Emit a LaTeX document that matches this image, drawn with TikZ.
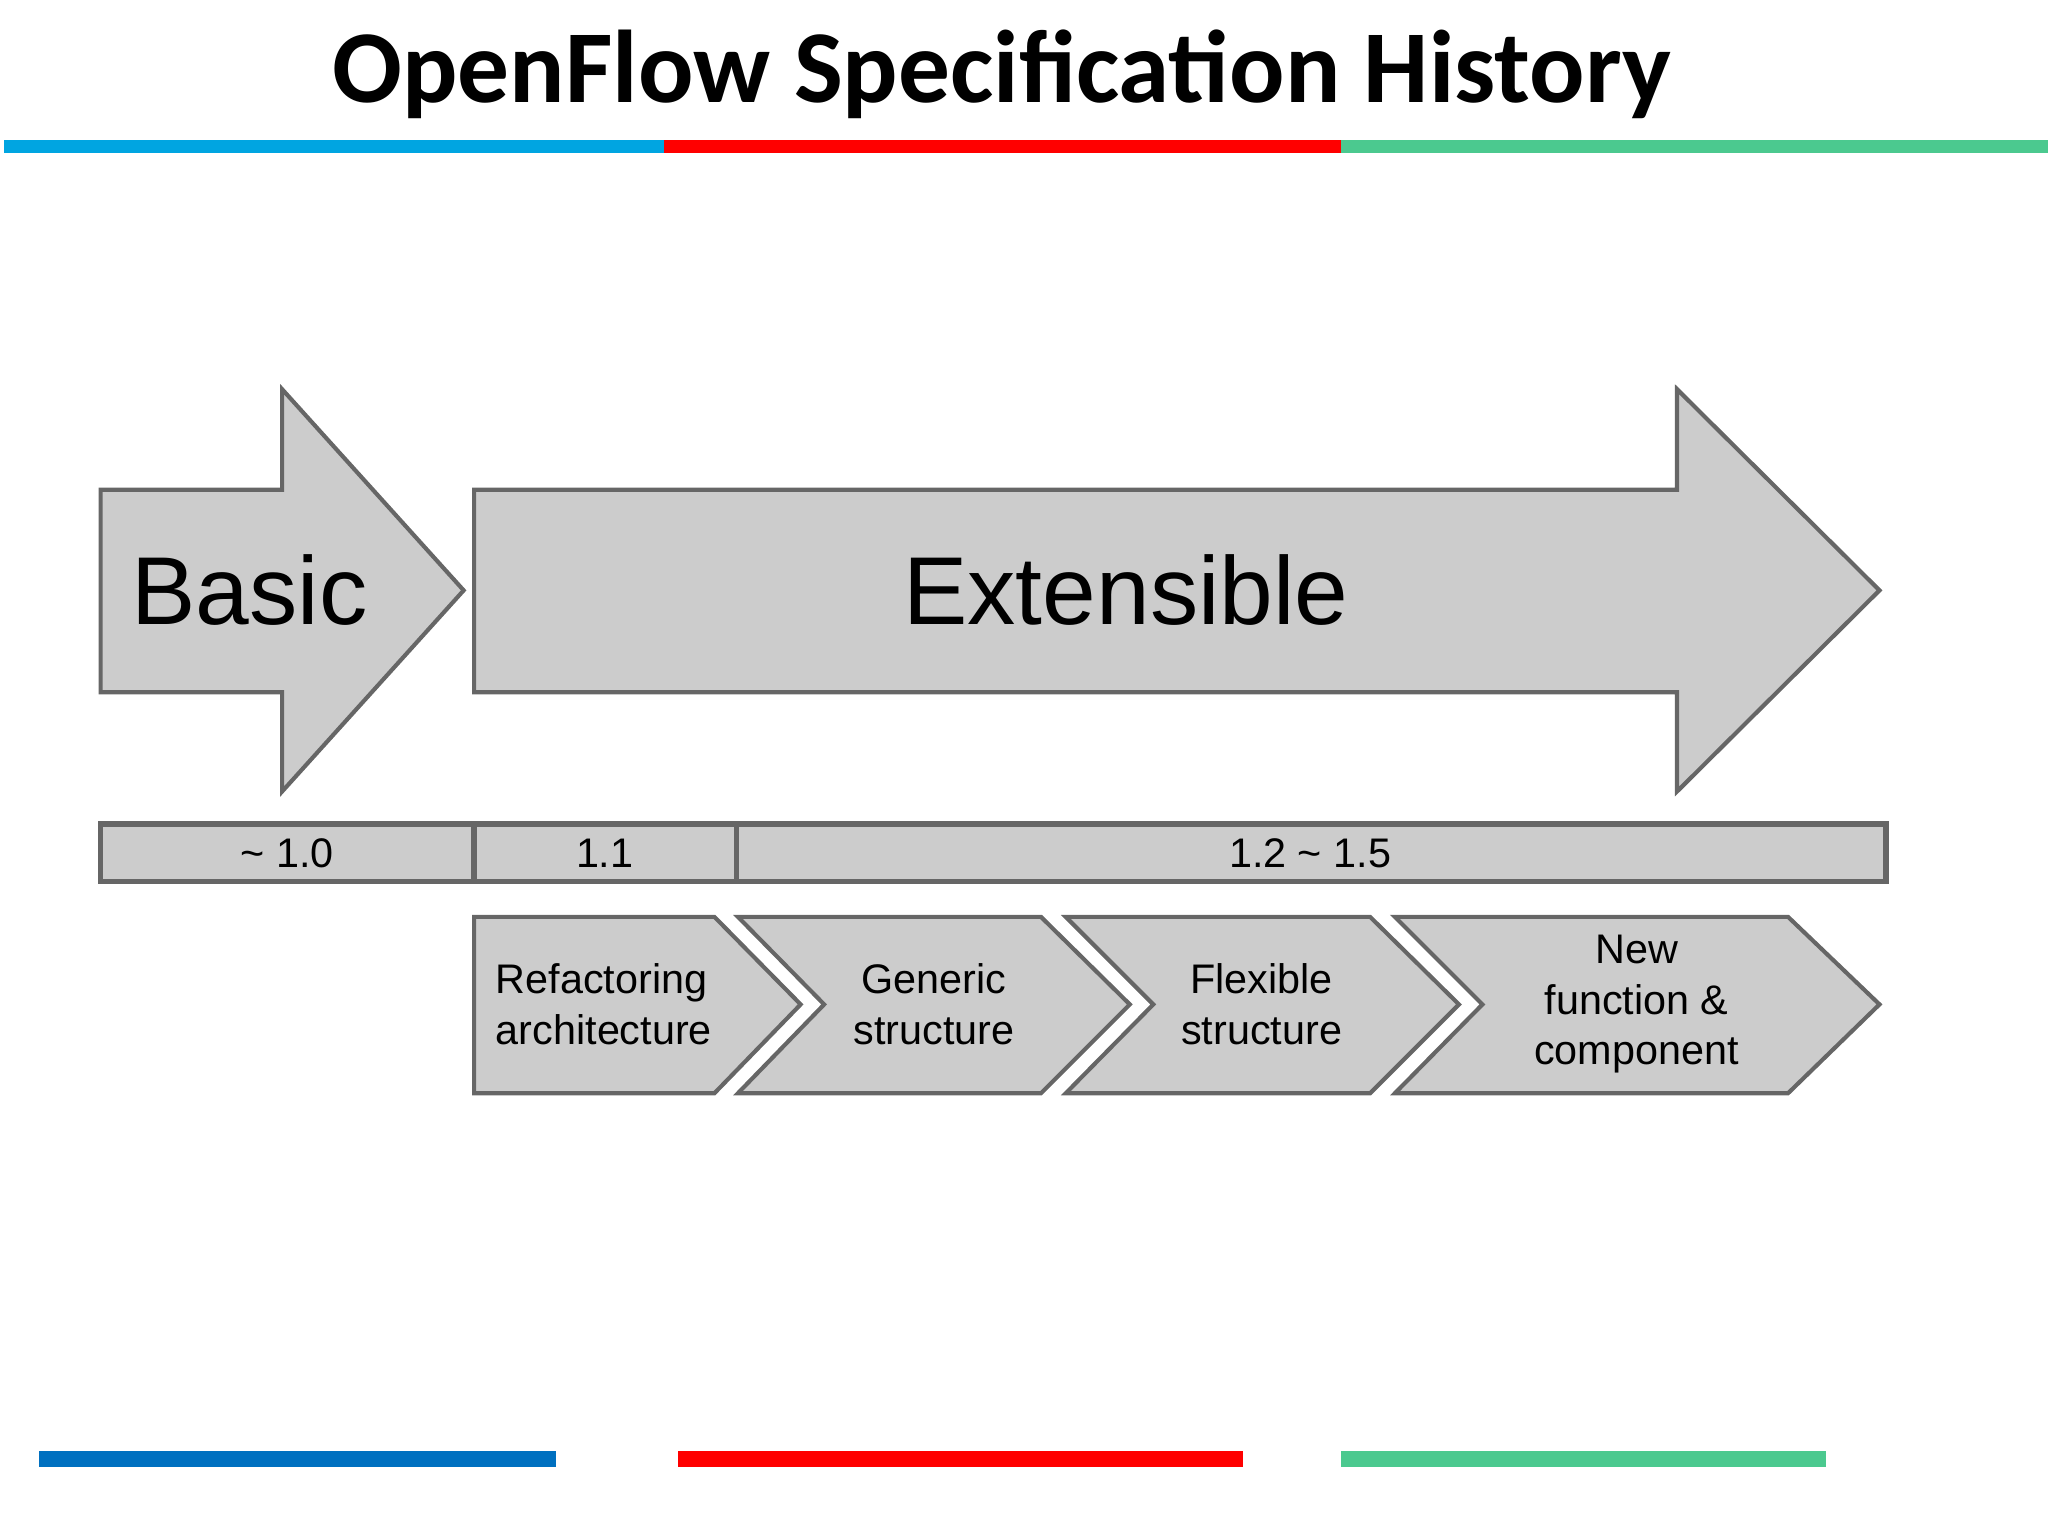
\documentclass[tikz,border=0pt]{standalone}
\usepackage{fontspec}
\setmainfont{Liberation Sans}
\newfontfamily\titlefont{Carlito}
\begin{document}
\begin{tikzpicture}[x=0.01cm,y=-0.01cm,
  shp/.style={fill=black!20,draw=black!60,line width=0.9pt,line join=miter},
  lbl/.style={font=\fontsize{9}{10.5}\selectfont,align=center,inner sep=0},
  big/.style={font=\fontsize{21}{24}\selectfont,inner sep=0}]
\useasboundingbox (0,0) rectangle (1568,1176);
\node[font=\titlefont\bfseries\fontsize{22.5}{26}\selectfont] (title) at (767,57) {OpenFlow Specification History};
\fill[color={rgb,255:red,0;green,165;blue,225}] (3,107) rectangle (508,117);
\fill[red] (508,107) rectangle (1027,117);
\fill[color={rgb,255:red,75;green,201;blue,143}] (1027,107) rectangle (1568,117);
\fill[color={rgb,255:red,0;green,112;blue,192}] (30,1111) rectangle (426,1123);
\fill[red] (519,1111) rectangle (952,1123);
\fill[color={rgb,255:red,75;green,201;blue,143}] (1027,1111) rectangle (1398,1123);
\draw[shp] (77,375)--(216,375)--(216,298)--(355,452)--(216,606)--(216,530)--(77,530)--cycle;
\draw[shp] (363,375)--(1284,375)--(1284,298)--(1439,452)--(1284,606)--(1284,530)--(363,530)--cycle;
\node[big,anchor=west] (basic) at (100,452) {Basic};
\node[big] (ext) at (862,452) {Extensible};
\draw[shp,line width=1.2pt] (77,631) rectangle (1444,675);
\draw[black!60,line width=1.2pt] (363,631)--(363,675) (564,631)--(564,675);
\node[lbl] (v10) at (220,653) {\textasciitilde{} 1.0};
\node[lbl] (v11) at (463,653) {1.1};
\node[lbl] (v12) at (1003,653) {1.2 \textasciitilde{} 1.5};
\draw[shp] (363,702)--(547,702)--(613,769)--(547,837)--(363,837)--cycle;
\draw[shp] (565,702)--(797,702)--(865,769)--(797,837)--(565,837)--(631,769)--cycle;
\draw[shp] (816,702)--(1049,702)--(1117,769)--(1049,837)--(816,837)--(883,769)--cycle;
\draw[shp] (1068,702)--(1369,702)--(1439,769)--(1369,837)--(1068,837)--(1135,769)--cycle;
\node[lbl,align=left,anchor=west,font=\fontsize{9}{11}\selectfont] (c1) at (379,769) {Refactoring\\architecture};
\node[lbl,font=\fontsize{9}{11}\selectfont] (c2) at (715,769) {Generic\\structure};
\node[lbl,font=\fontsize{9}{11}\selectfont] (c3) at (966,769) {Flexible\\structure};
\node[lbl,font=\fontsize{9}{11}\selectfont] (c4) at (1253,769) {New\\function \&\\component};
\end{tikzpicture}
\end{document}
